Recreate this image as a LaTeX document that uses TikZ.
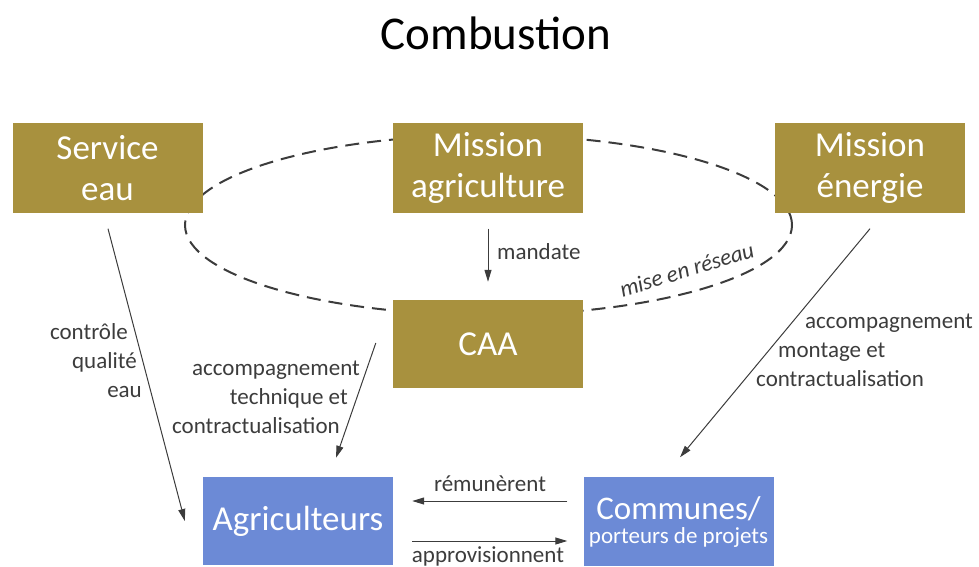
\documentclass[tikz,border=0pt]{standalone}
\usepackage{fontspec}
\setmainfont{Carlito}
\usetikzlibrary{arrows.meta,calc}
\definecolor{gold}{RGB}{168,145,62}
\definecolor{bluebox}{RGB}{108,138,214}
\definecolor{ink}{RGB}{60,60,60}
\tikzset{
  goldbox/.style={rectangle,fill=gold,text=white,inner sep=0pt,minimum width=190pt,minimum height=89pt,align=center,font=\fontsize{35}{41}\selectfont},
  bluenode/.style={rectangle,fill=bluebox,text=white,inner sep=0pt,minimum width=190pt,minimum height=89pt,align=center},
  lab/.style={inner sep=0pt,text=ink,font=\fontsize{23}{29}\selectfont},
  conn/.style={draw=ink,line width=1pt,-{Triangle[length=12pt,width=7pt]}},
  netw/.style={draw=ink,line width=2pt,dash pattern=on 14pt off 8pt}
}
\begin{document}
\begin{tikzpicture}[x=1pt,y=-1pt]
\useasboundingbox (0,0) rectangle (979,567);
\node[inner sep=0pt,font=\fontsize{47}{52}\selectfont] (title) at (496,33) {Combustion};
% network ellipse (behind boxes)
\coordinate (netc) at (488.5,225);
\draw[netw] (netc) ellipse [x radius=303.5pt, y radius=90pt];
\node[goldbox] (se) at (107.5,168) {Service\\eau};
\node[goldbox] (ma) at (488,168) {Mission\\agriculture};
\node[goldbox] (me) at (870,168) {Mission\\énergie};
\node[goldbox,minimum height=88pt] (caa) at (488,344) {CAA};
\node[bluenode,minimum height=88pt,font=\fontsize{35}{40}\selectfont] (agri) at (298,521) {Agriculteurs};
\node[bluenode] (com) at (678.5,521) {};
\node[inner sep=0pt,text=white,align=center] (comt) at (678.5,522) {{\fontsize{33}{36}\selectfont Communes/}\\[5pt]{\fontsize{23}{26}\selectfont porteurs de projets}};
% connectors
\draw[conn] ($(se.south)+(0.5,16)$) -- ($(agri.west)+(-18,0)$);
\draw[conn] ($(ma.south)+(0,16)$) -- ($(caa.north)+(0,-18)$);
\draw[conn] ($(caa.west)+(-17,-1)$) -- ($(agri.north)+(38,-19)$);
\draw[conn] ($(me.south)+(0,16)$) -- ($(com.north)+(1.5,-19)$);
\draw[conn] ($(com.west)+(-16,-20)$) -- ($(agri.east)+(19,-20)$);
\draw[conn] ($(agri.east)+(19,20)$) -- ($(com.west)+(-16,20)$);
% labels
\node[lab,align=right,anchor=east] (l1) at (142,361) {contrôle\makebox[14pt]{}\\qualité\makebox[5pt]{}\\eau};
\node[lab,align=right,anchor=east] (l2) at (360,397) {accompagnement\\technique et\makebox[12pt]{}\\contractualisation\makebox[20pt]{}};
\node[lab,align=left,anchor=west] (l3) at (756,350) {\makebox[49pt]{}accompagnement\\\makebox[22pt]{}montage et\\contractualisation};
\node[lab,anchor=west] (l4) at (497,252) {mandate};
\node[lab,rotate=17,anchor=base,font=\fontsize{23}{29}\selectfont\itshape] (l5) at (689,277) {mise en réseau};
\node[lab] (l6) at (490,484) {rémunèrent};
\node[lab] (l7) at (488,556) {approvisionnent};
\end{tikzpicture}
\end{document}
